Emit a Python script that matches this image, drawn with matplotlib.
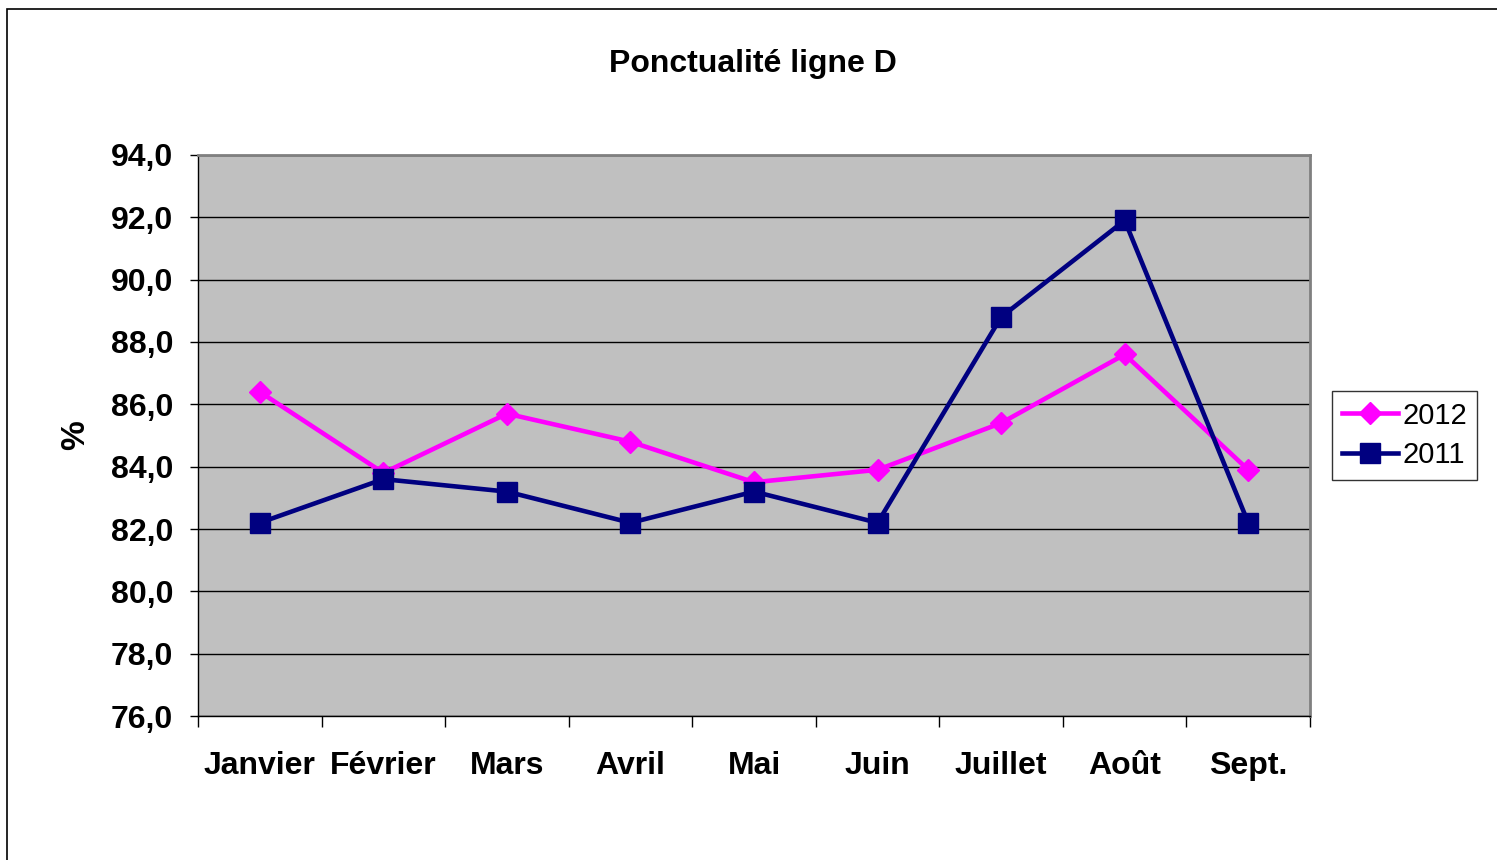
import matplotlib.pyplot as plt
from matplotlib.patches import Rectangle
import numpy as np

plt.rcParams['font.family'] = ['Liberation Sans', 'DejaVu Sans']

months = ['Janvier', 'Février', 'Mars', 'Avril', 'Mai', 'Juin', 'Juillet', 'Août', 'Sept.']
v2012 = [86.4, 83.8, 85.7, 84.8, 83.5, 83.9, 85.4, 87.6, 83.9]
v2011 = [82.2, 83.6, 83.2, 82.2, 83.2, 82.2, 88.8, 91.9, 82.2]
yticks = [76, 78, 80, 82, 84, 86, 88, 90, 92, 94]

fig = plt.figure(figsize=(14.97, 8.60), dpi=100)
fig.patches.append(Rectangle((0.0047, -0.01), 1.1, 1.0, transform=fig.transFigure,
                             fill=False, edgecolor='black', linewidth=1.2))

ax = fig.add_axes([0.1323, 0.1674, 0.8751 - 0.1323, 0.8198 - 0.1674])
ax.set_facecolor('#C0C0C0')

x = np.arange(len(months))
ax.plot(x, v2012, color='#FF00FF', lw=3.3, marker='D', ms=11, label='2012', zorder=3)
ax.plot(x, v2011, color='#000080', lw=3.3, marker='s', ms=14, label='2011', zorder=4)

ax.set_xlim(-0.5, len(months) - 0.5)
ax.set_ylim(76, 94)
ax.set_yticks(yticks)
ax.set_yticklabels([f'{v:.1f}'.replace('.', ',') for v in yticks],
                   fontsize=23, fontweight='bold')
ax.set_xticks(x)
ax.set_xticklabels(months, fontsize=23, fontweight='bold')
ax.set_xticks(np.arange(-0.5, len(months)), minor=True)
ax.tick_params(axis='x', which='major', length=0, pad=25)
ax.tick_params(axis='x', which='minor', length=8, width=1, direction='out')
ax.tick_params(axis='y', length=6, width=1, direction='out', pad=12)

ax.grid(axis='y', color='black', lw=1)
ax.set_axisbelow(True)
for s in ['top', 'right']:
    ax.spines[s].set_color('#808080')
    ax.spines[s].set_linewidth(2)
for s in ['left', 'bottom']:
    ax.spines[s].set_color('black')
    ax.spines[s].set_linewidth(1)

ax.set_ylabel('%', fontsize=24, fontweight='bold', labelpad=14)
fig.text(0.503, 0.926, 'Ponctualité ligne D', ha='center', va='center',
         fontsize=23, fontweight='bold')

leg = ax.legend(loc='center left', bbox_to_anchor=(1.02, 0.5), fontsize=21,
                frameon=True, fancybox=False, edgecolor='black',
                handlelength=1.9, handletextpad=0.15, borderpad=0.35,
                labelspacing=0.4, borderaxespad=0)
leg.get_frame().set_linewidth(1)

fig.savefig('out.png', dpi=100)
